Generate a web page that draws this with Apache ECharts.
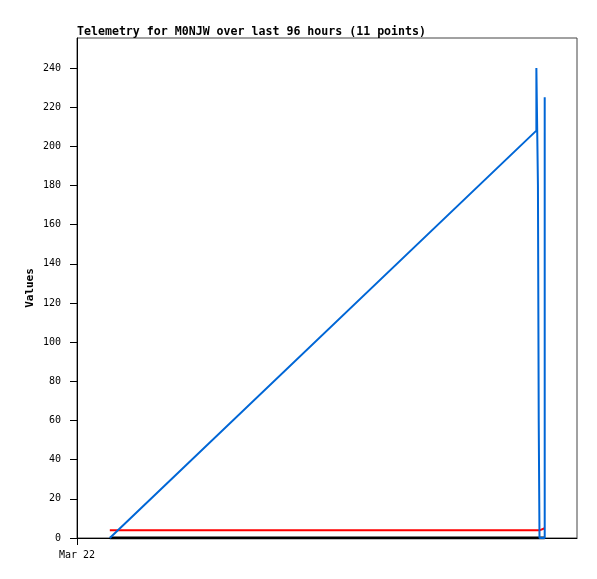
<!DOCTYPE html>
<html><head><meta charset="utf-8">
<script src="https://cdn.jsdelivr.net/npm/echarts@6/dist/echarts.min.js"></script>
<style>html,body{margin:0;padding:0;background:#fff}#c{width:597px;height:579px}</style>
</head><body><div id="c"></div>
<script>
// x values: hours since start of 96-hour window (Mar 22)
const titleText = 'Telemetry for M0NJW over last 96 hours (11 points)';
const xTickLabels = ['Mar 22'];
const yTicks = [0,20,40,60,80,100,120,140,160,180,200,220,240];
const blueSeries = [[6.3,0],[88.2,208],[88.2,240],[88.5,240],[88.5,180],[88.65,180],[88.65,60],[88.8,60],[88.8,0],[89.8,0],[89.8,225]];
const redSeries = [[6.3,4],[88.9,4],[89.8,5]];
const blackSeries = [[6.3,0],[89.8,0]];

const font = 'DejaVu Sans Mono';
const chart = echarts.init(document.getElementById('c'));
chart.setOption({
  animation:false,
  backgroundColor:'#fff',
  title:{text:titleText,left:77,top:26,padding:0,textStyle:{fontFamily:font,fontSize:11.6,fontWeight:'bold',color:'#000'}},
  grid:{left:77,right:20,top:38,bottom:41,show:true,borderColor:'#444',borderWidth:1},
  xAxis:{type:'value',min:0,max:96,
    axisLine:{show:true,onZero:false,lineStyle:{color:'#000',width:1}},
    axisTick:{show:true,length:7,lineStyle:{color:'#000'},customValues:[0]},
    axisLabel:{customValues:[0],formatter:()=>xTickLabels[0],fontFamily:font,fontSize:10,color:'#000',margin:12},
    splitLine:{show:false}},
  yAxis:{type:'value',min:0,max:255.3,
    name:'Values',nameLocation:'middle',nameGap:41,nameMoveOverlap:false,
    nameTextStyle:{fontFamily:font,fontSize:11,fontWeight:'bold',color:'#000'},
    axisLine:{show:true,lineStyle:{color:'#000',width:1}},
    axisTick:{show:true,length:7,lineStyle:{color:'#000'},customValues:yTicks},
    axisLabel:{customValues:yTicks,fontFamily:font,fontSize:10,color:'#000',margin:16},
    splitLine:{show:false}},
  series:[
    {type:'line',data:blackSeries,symbol:'none',lineStyle:{color:'#000',width:3},z:3},
    {type:'line',data:redSeries,symbol:'none',lineStyle:{color:'#ff0000',width:2},z:4},
    {type:'line',data:blueSeries,symbol:'none',lineStyle:{color:'#0066d6',width:2},z:5}
  ]
});
</script></body></html>
